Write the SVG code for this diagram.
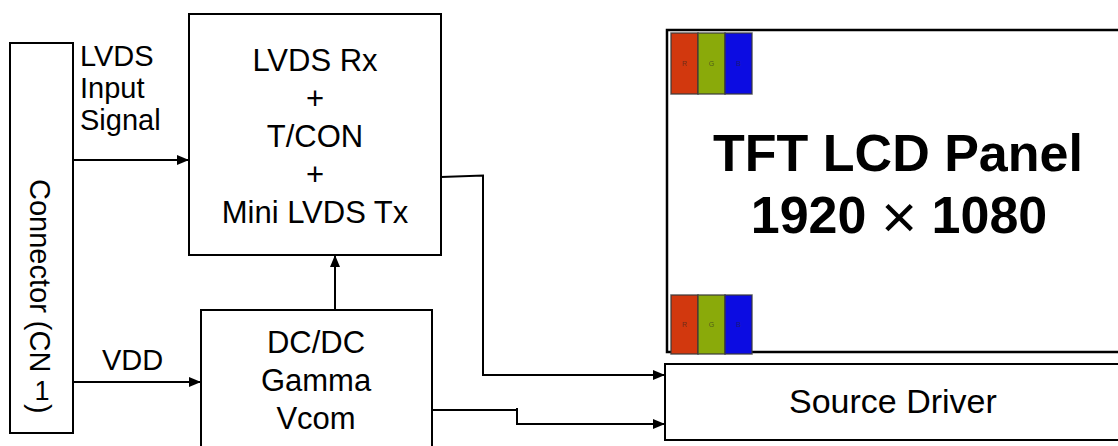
<svg xmlns="http://www.w3.org/2000/svg" width="1118" height="446" viewBox="0 0 1118 446">
<style>
.box{fill:#fff;stroke:#000;stroke-width:2}
.t{font-family:"Liberation Sans",Arial,sans-serif;fill:#000}
.m{font-size:31px}
.s29{font-size:29px}
.c{text-anchor:middle}
.ln{fill:none;stroke:#000;stroke-width:2}
.strip{stroke:#3a3a3a;stroke-width:1.5;stroke-opacity:0.8}
.sl{font-family:"Liberation Sans",Arial,sans-serif;font-size:7px;text-anchor:middle;fill:#222;fill-opacity:0.6}
.big{font-family:"Liberation Sans",Arial,sans-serif;font-size:52px;font-weight:bold;text-anchor:middle}
</style>
<defs>
<marker id="ah" viewBox="0 0 12 10" refX="12" refY="5" markerWidth="12" markerHeight="10" markerUnits="userSpaceOnUse" orient="auto">
<path d="M0,0 L12,5 L0,10 z" fill="#000"/>
</marker>
</defs>
<rect width="1118" height="446" fill="#fff"/>

<g id="panel">
<rect x="667" y="30" width="480" height="322" fill="#fff" stroke="#000" stroke-width="2.5"/>
<g id="rgb-top">
<rect class="strip" x="671" y="33" width="27" height="61" fill="#d2380e"/>
<rect class="strip" x="698" y="33" width="27" height="61" fill="#8aaa0a"/>
<rect class="strip" x="725" y="33" width="27" height="61" fill="#0c0ce2"/>
<text class="sl" x="684.5" y="66">R</text>
<text class="sl" x="711.5" y="66">G</text>
<text class="sl" x="738.5" y="66">B</text>
</g>
<g id="rgb-bottom">
<rect class="strip" x="671" y="295" width="27" height="59" fill="#d2380e"/>
<rect class="strip" x="698" y="295" width="27" height="59" fill="#8aaa0a"/>
<rect class="strip" x="725" y="295" width="27" height="59" fill="#0c0ce2"/>
<text class="sl" x="684.5" y="327">R</text>
<text class="sl" x="711.5" y="327">G</text>
<text class="sl" x="738.5" y="327">B</text>
</g>
<text class="big" x="898" y="171">TFT LCD Panel</text>
<text class="big" x="899" y="233">1920 <tspan style="font-weight:normal;font-size:62px" dy="5">×</tspan><tspan dy="-5"> 1080</tspan></text>
</g>

<g id="connector">
<rect class="box" x="10" y="43" width="63" height="390"/>
<text class="t s29" transform="translate(30,179) rotate(90)">Connector (CN</text>
<text class="t c" style="font-size:27px" x="42" y="400">1</text>
<text class="t s29" transform="translate(30,404) rotate(90)">)</text>
</g>

<g id="lvds-rx">
<rect class="box" x="189" y="14" width="252" height="241"/>
<text class="t m c" x="315" y="71">LVDS Rx</text>
<text class="t m c" x="315" y="109">+</text>
<text class="t m c" x="315" y="147">T/CON</text>
<text class="t m c" x="315" y="185">+</text>
<text class="t m c" x="315" y="223">Mini LVDS Tx</text>
</g>

<g id="dcdc">
<rect class="box" x="201" y="310" width="231" height="150"/>
<text class="t m c" x="316" y="353">DC/DC</text>
<text class="t m c" x="316" y="391">Gamma</text>
<text class="t m c" x="316" y="429">Vcom</text>
</g>

<g id="source-driver">
<rect class="box" x="665" y="364" width="470" height="76"/>
<text class="t" style="font-size:34px" x="789" y="413">Source Driver</text>
</g>

<g id="labels">
<text class="t s29" x="80" y="66">LVDS</text>
<text class="t s29" x="80" y="98">Input</text>
<text class="t s29" x="80" y="130">Signal</text>
<text class="t s29" x="102" y="370">VDD</text>
</g>

<g id="connectors">
<path class="ln" d="M73,160 H189" marker-end="url(#ah)"/>
<path class="ln" d="M73,382 H201" marker-end="url(#ah)"/>
<path class="ln" d="M335,310 V255" marker-end="url(#ah)"/>
<path class="ln" d="M441,177 L483,175.5 V375 H665" marker-end="url(#ah)"/>
<path class="ln" d="M432,410 H517" stroke-width="1.5"/>
<path class="ln" d="M517,408 V424 H665" stroke-width="2.5" marker-end="url(#ah)"/>
</g>
</svg>
